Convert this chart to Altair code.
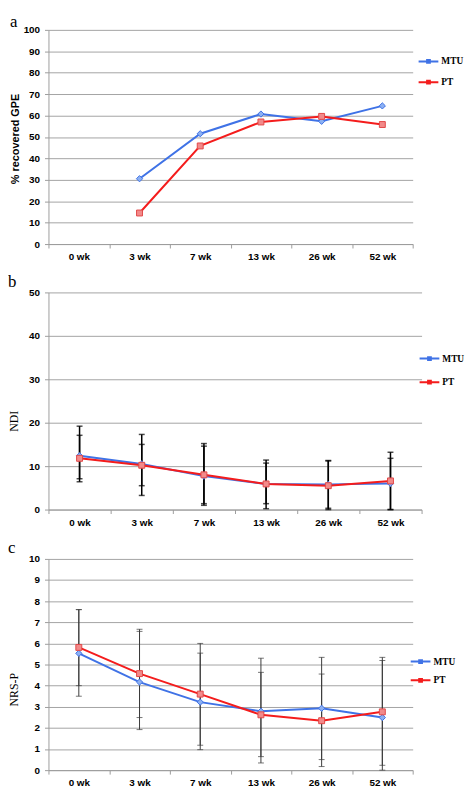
import altair as alt
import pandas as pd

weeks = ["0 wk", "3 wk", "7 wk", "13 wk", "26 wk", "52 wk"]
series = ["MTU", "PT"]

# Panel a: % recovered GPE
gpe_mtu = [None, 30.5, 51.5, 60.7, 57.3, 64.5]
gpe_pt = [None, 14.5, 45.8, 57.0, 59.6, 55.8]

# Panel b: NDI (mean, lower and upper error bar ends)
ndi_mtu = [12.4, 10.5, 7.7, 5.9, 5.8, 6.0]
ndi_pt = [11.8, 10.2, 8.0, 5.9, 5.5, 6.6]
ndi_mtu_lo = [6.4, 3.25, 0.98, 0.2, 0.3, 0.0]
ndi_mtu_hi = [19.2, 17.3, 14.6, 11.4, 11.3, 11.8]
ndi_pt_lo = [7.1, 5.5, 1.36, 1.36, 0.0, 0.0]
ndi_pt_hi = [17.1, 15.0, 15.2, 10.7, 11.2, 13.2]

# Panel c: NRS-P
nrs_mtu = [5.53, 4.17, 3.22, 2.79, 2.93, 2.49]
nrs_pt = [5.81, 4.57, 3.60, 2.62, 2.34, 2.76]
nrs_mtu_lo = [3.5, 1.92, 0.97, 0.34, 0.5, -0.2]
nrs_mtu_hi = [7.6, 6.57, 5.54, 5.3, 5.34, 5.19]
nrs_pt_lo = [4.0, 2.49, 1.18, 0.64, 0.17, 0.23]
nrs_pt_hi = [7.6, 6.67, 6.0, 4.63, 4.55, 5.34]

LINE_COLORS = ["#3f72e6", "#f41c1c"]
FILL_COLORS = ["#8cb0f2", "#f28a8a"]
LEGEND_PATH = "M-1,0L1,0M-0.14,-0.14L0.14,-0.14L0.14,0.14L-0.14,0.14Z"

SANS = "Liberation Sans"
SERIF = "Liberation Serif"


def make_df(mtu, pt, mtu_lo=None, mtu_hi=None, pt_lo=None, pt_hi=None):
    rows = []
    for i, w in enumerate(weeks):
        rows.append(dict(week=w, series="MTU", value=mtu[i],
                         lo=None if mtu_lo is None else mtu_lo[i],
                         hi=None if mtu_hi is None else mtu_hi[i]))
        rows.append(dict(week=w, series="PT", value=pt[i],
                         lo=None if pt_lo is None else pt_lo[i],
                         hi=None if pt_hi is None else pt_hi[i]))
    return pd.DataFrame(rows)


def panel(df, letter, ymax, ystep, ytitle, tfont, tsize, tweight, title_y,
          width, height, leg_kw, title_offset,
          err=False, err_color="black", err_width=1.5):
    xs = alt.Scale(domain=weeks, type="band", paddingInner=0, paddingOuter=0)
    xaxis = alt.Axis(title=None, labelAngle=0, tickBand="extent", grid=False,
                     domainColor="#9c9c9c", tickColor="#9c9c9c", tickSize=4,
                     labelPadding=4, labelFont=SANS, labelFontSize=10,
                     labelFontWeight="bold", labelColor="black")
    ys = alt.Scale(domain=[0, ymax], clamp=True, nice=False)
    yaxis = alt.Axis(values=list(range(0, ymax + 1, ystep)), title=ytitle,
                     titleFont=tfont, titleFontSize=tsize, titleFontWeight=tweight,
                     titleColor="black", titleAngle=270, titleX=-28, titleY=title_y,
                     titleBaseline="bottom",
                     gridColor="#a3a3a3", gridWidth=1,
                     domainColor="#9c9c9c", tickColor="#9c9c9c", tickSize=4,
                     labelPadding=5, labelFont=SANS, labelFontSize=10,
                     labelFontWeight="bold", labelColor="black")
    X = alt.X("week:N", scale=xs, axis=xaxis, sort=weeks)

    def Y(field):
        return alt.Y(field, type="quantitative", scale=ys, axis=yaxis, title=ytitle)

    leg = alt.Legend(title=None, orient="none", labelFont=SERIF, labelFontSize=9.5,
                     labelFontWeight="bold", labelColor="black", symbolStrokeWidth=2,
                     symbolType=LEGEND_PATH, symbolSize=400,
                     labelOffset=2, padding=0, **leg_kw)

    base = alt.Chart(df)
    layers = []
    if err:
        layers.append(
            base.mark_errorbar(ticks=True, size=6, thickness=err_width, color=err_color)
            .encode(x=X, y=Y("lo"), y2=alt.Y2("hi"))
        )
    layers.append(
        base.mark_line(strokeWidth=2).encode(
            x=X, y=Y("value"),
            color=alt.Color("series:N", scale=alt.Scale(domain=series, range=LINE_COLORS),
                            legend=leg),
        )
    )
    layers.append(
        base.transform_filter(alt.datum.series == "MTU")
        .mark_point(shape="diamond", filled=True, size=40, fill=FILL_COLORS[0],
                    stroke=LINE_COLORS[0], strokeWidth=1, opacity=1)
        .encode(x=X, y=Y("value"))
    )
    layers.append(
        base.transform_filter(alt.datum.series == "PT")
        .mark_point(shape="square", filled=True, size=36, fill=FILL_COLORS[1],
                    stroke="#e24848", strokeWidth=1, opacity=1)
        .encode(x=X, y=Y("value"))
    )
    title = alt.TitleParams(letter, anchor="start", frame="bounds", font=SERIF,
                            fontSize=17, fontWeight="normal", color="black",
                            offset=title_offset)
    return alt.layer(*layers).properties(width=width, height=height, title=title)


df_a = make_df(gpe_mtu, gpe_pt)
df_b = make_df(ndi_mtu, ndi_pt, ndi_mtu_lo, ndi_mtu_hi, ndi_pt_lo, ndi_pt_hi)
df_c = make_df(nrs_mtu, nrs_pt, nrs_mtu_lo, nrs_mtu_hi, nrs_pt_lo, nrs_pt_hi)

pa = panel(df_a, "a", 100, 10, "% recovered GPE", SANS, 11, "bold", 110,
           369, 217, dict(legendX=374, legendY=21, rowPadding=4), -6)
pb = panel(df_b, "b", 50, 10, "NDI", SERIF, 12, "normal", 130,
           378, 220, dict(legendX=375, legendY=56, rowPadding=7), -4,
           err=True, err_color="black", err_width=1.5)
pc = panel(df_c, "c", 10, 1, "NRS-P", SERIF, 12, "normal", 132,
           369, 214, dict(legendX=366, legendY=93, rowPadding=2), -3,
           err=True, err_color="#3a3a3a", err_width=1)

chart = (
    alt.vconcat(pa, pb, pc, spacing=12)
    .resolve_scale(color="independent")
    .resolve_legend(color="independent")
    .properties(padding=0)
    .configure_view(stroke=None)
)

chart.save("out.html", embed_options={"renderer": "svg", "actions": False})
